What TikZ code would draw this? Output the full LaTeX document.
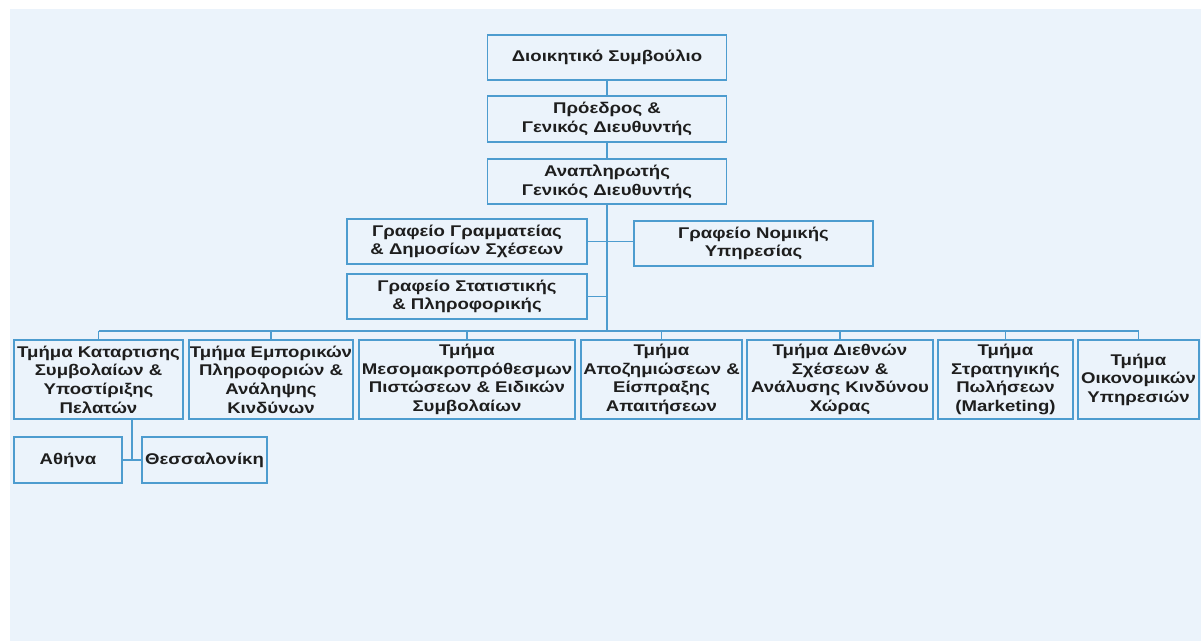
\documentclass[tikz,border=0pt]{standalone}
\usepackage{fontspec}
\setmainfont{Liberation Sans}[FakeStretch=1.2]
\definecolor{chartbg}{HTML}{EBF3FB}
\definecolor{chartline}{HTML}{4D9CCF}
\definecolor{charttext}{HTML}{1E1E1E}
\begin{document}
\begin{tikzpicture}[
        x=1pt, y=-1pt,
        unit/.style={rectangle, draw=chartline, fill=chartbg, line width=1.6pt,
          align=center, text=charttext, inner sep=1pt,
          font=\fontsize{15.5}{18.6}\selectfont\bfseries},
        link/.style={draw=chartline, line width=1.6pt}
      ]
      \useasboundingbox (0,0) rectangle (1201,641);
      \fill[white] (0,0) rectangle (1201,641);
      \fill[chartbg] (10,9) rectangle (1201,641);

      \node[unit, minimum width=239, minimum height=45] (board) at (607,57.5) {Διοικητικό Συμβούλιο};
      \node[unit, minimum width=239, minimum height=46] (president) at (607,119) {Πρόεδρος \&\\Γενικός Διευθυντής};
      \node[unit, minimum width=239, minimum height=45] (deputy) at (607,181.5) {Αναπληρωτής\\Γενικός Διευθυντής};
      \node[unit, minimum width=240, minimum height=45] (secretariat) at (467,241.5) {Γραφείο Γραμματείας\\\& Δημοσίων Σχέσεων};
      \node[unit, minimum width=239, minimum height=45] (legal) at (753.5,243.5) {Γραφείο Νομικής\\Υπηρεσίας};
      \node[unit, minimum width=240, minimum height=45] (stats) at (467,296.5) {Γραφείο Στατιστικής\\\& Πληροφορικής};

      \node[unit, minimum width=169, minimum height=79] (contracts) at (98.5,379.5) {Τμήμα Καταρτισης\\Συμβολαίων \&\\Υποστίριξης\\Πελατών};
      \node[unit, minimum width=164, minimum height=79] (commercial) at (271,379.5) {Τμήμα Εμπορικών\\Πληροφοριών \&\\Ανάληψης\\Κινδύνων};
      \node[unit, minimum width=216, minimum height=79] (credit) at (467,379.5) {Τμήμα\\Μεσομακροπρόθεσμων\\Πιστώσεων \& Ειδικών\\Συμβολαίων};
      \node[unit, minimum width=161, minimum height=79] (claims) at (661.5,379.5) {Τμήμα\\Αποζημιώσεων \&\\Είσπραξης\\Απαιτήσεων};
      \node[unit, minimum width=186, minimum height=79] (international) at (840,379.5) {Τμήμα Διεθνών\\Σχέσεων \&\\Ανάλυσης Κινδύνου\\Χώρας};
      \node[unit, minimum width=135, minimum height=79] (marketing) at (1005.5,379.5) {Τμήμα\\Στρατηγικής\\Πωλήσεων\\(Marketing)};
      \node[unit, minimum width=121, minimum height=79] (finance) at (1138.5,379.5) {Τμήμα\\Οικονομικών\\Υπηρεσιών};

      \node[unit, minimum width=108, minimum height=46] (athens) at (68,460) {Αθήνα};
      \node[unit, minimum width=125, minimum height=46] (thessaloniki) at (204.5,460) {Θεσσαλονίκη};

      \coordinate (bus) at (607,331);
      \coordinate (branch) at (132,460);

      \draw[link] (board) -- (president);
      \draw[link] (president) -- (deputy);
      \draw[link] (deputy.south) -- (bus);
      \draw[link] (secretariat.east) -- (secretariat.east -| legal.west);
      \draw[link] (stats.east) -- (stats.east -| bus);
      \draw[link] (contracts.north |- bus) -- (finance.north |- bus);
      \foreach \dept in {contracts, commercial, credit, claims, international, marketing, finance}
        \draw[link] (\dept.north) -- (\dept.north |- bus);
      \draw[link] (branch |- contracts.south) -- (branch);
      \draw[link] (athens.east) -- (thessaloniki.west);
    \end{tikzpicture}
\end{document}
